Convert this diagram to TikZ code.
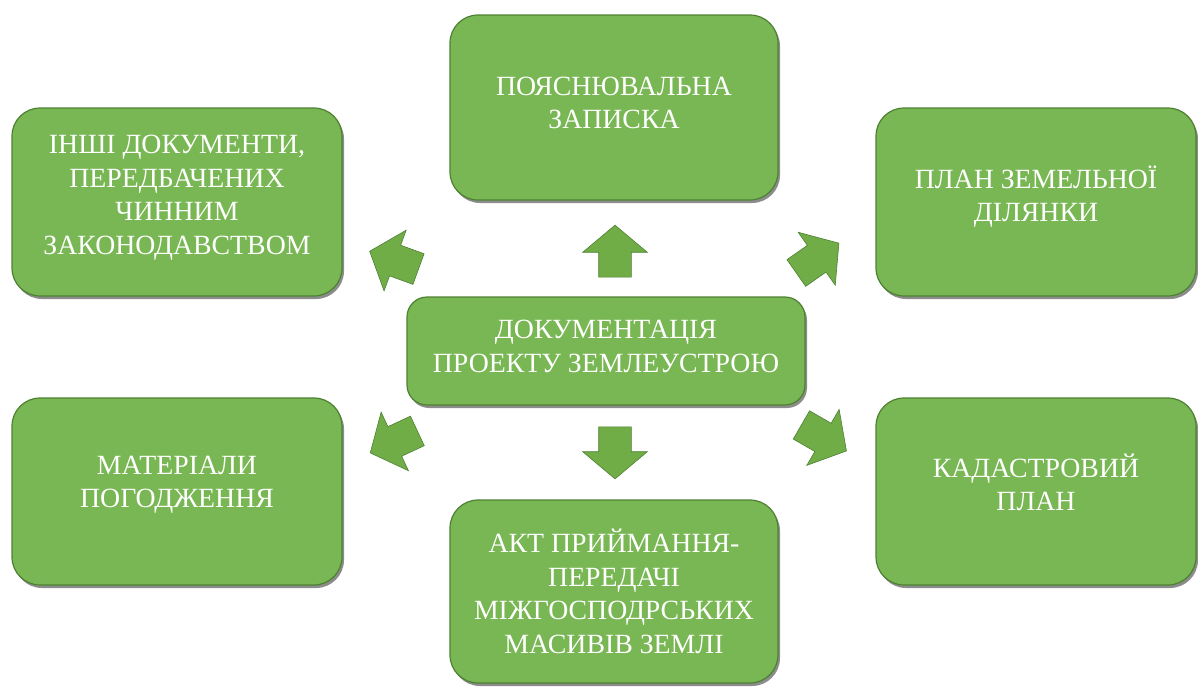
\documentclass[tikz,border=0pt]{standalone}
\usepackage{fontspec}
\setmainfont{Liberation Serif}
\usetikzlibrary{shapes.arrows,shadows}
\definecolor{boxgreen}{RGB}{120,183,83}
\definecolor{boxedge}{RGB}{78,128,50}
\definecolor{arrgreen}{RGB}{112,173,71}
\begin{document}
\begin{tikzpicture}[x=1pt,y=-1pt,
  card/.style={rounded corners=28pt, fill=boxgreen, draw=boxedge, line width=1.2pt,
    drop shadow={shadow xshift=2pt,shadow yshift=-3pt,fill=black,opacity=0.45},
    inner sep=0pt},
  cardtext/.style={text=white, align=center, inner sep=0pt,
    font=\fontsize{27.8}{33.5}\selectfont},
  blockarrow/.style={single arrow, fill=arrgreen, draw=boxedge, line width=0.6pt,
    minimum height=52pt, minimum width=64pt, inner xsep=0pt, inner ysep=16pt,
    single arrow head extend=16pt, single arrow tip angle=100, text width=0pt}]
\useasboundingbox (0,0) rectangle (1198,686);

\node[card, minimum width=328pt, minimum height=185pt] (zap) at (614,107.5) {};
\node[card, minimum width=330pt, minimum height=188pt] (inshi) at (177,202) {};
\node[card, minimum width=320pt, minimum height=188pt] (plan) at (1036,202) {};
\node[card, rounded corners=20pt, minimum width=398pt, minimum height=108pt] (doc) at (606,351) {};
\node[card, minimum width=330pt, minimum height=187pt] (mat) at (177,491.5) {};
\node[card, minimum width=320pt, minimum height=187pt] (kad) at (1036,491.5) {};
\node[card, minimum width=328pt, minimum height=183pt] (akt) at (614,591.5) {};

\node[cardtext] (zapt) at (614,103) {ПОЯСНЮВАЛЬНА\\ЗАПИСКА};
\node[cardtext] (inshit) at (177,197.5) {ІНШІ ДОКУМЕНТИ,\\ПЕРЕДБАЧЕНИХ\\ЧИННИМ\\ЗАКОНОДАВСТВОМ};
\node[cardtext] (plant) at (1036,196.5) {ПЛАН ЗЕМЕЛЬНОЇ\\ДІЛЯНКИ};
\node[cardtext] (doct) at (606,346.5) {ДОКУМЕНТАЦІЯ\\ПРОЕКТУ ЗЕМЛЕУСТРОЮ};
\node[cardtext] (matt) at (177,485) {МАТЕРІАЛИ\\ПОГОДЖЕННЯ};
\node[cardtext] (kadt) at (1036,482.5) {КАДАСТРОВИЙ\\ПЛАН};
\node[cardtext] (aktt) at (614,591.5) {АКТ ПРИЙМАННЯ-\\ПЕРЕДАЧІ\\МІЖГОСПОДРСЬКИХ\\МАСИВІВ ЗЕМЛІ};

\node[blockarrow, rotate=90] (aup) at (615,258) {};
\node[blockarrow, rotate=-90] (adown) at (615,446) {};
\node[blockarrow, rotate=160] (aul) at (400.5,262.5) {};
\node[blockarrow, rotate=35] (aur) at (812,262) {};
\node[blockarrow, rotate=205] (all) at (400,439) {};
\node[blockarrow, rotate=-30] (alr) at (818,434.5) {};
\end{tikzpicture}
\end{document}
